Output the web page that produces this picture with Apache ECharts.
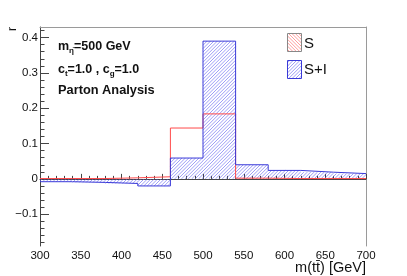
<!DOCTYPE html>
<html><head><meta charset="utf-8">
<script src="https://cdn.jsdelivr.net/npm/echarts@6/dist/echarts.min.js"></script>
<style>html,body{margin:0;padding:0;background:#fff}#c{width:407px;height:276px}</style>
</head><body><div id="c"></div>
<script>
const binEdges = [300, 340, 380, 420, 460, 500, 540, 580, 620, 660, 700];
const sValues  = [0.001, 0.001, 0.003, 0.006, 0.144, 0.184, 0.002, 0.001, 0.001, 0.001];
const siValues = [-0.008, -0.010, -0.013, -0.020, 0.059, 0.390, 0.040, 0.024, 0.019, 0.015];
const yMajorTicks = [-0.1, 0, 0.1, 0.2, 0.3, 0.4];
const yMinorTicks = [-0.18, -0.16, -0.14, -0.12, -0.08, -0.06, -0.04, -0.02, 0.02, 0.04, 0.06, 0.08,
  0.12, 0.14, 0.16, 0.18, 0.22, 0.24, 0.26, 0.28, 0.32, 0.34, 0.36, 0.38, 0.42];
const seriesNames = ['S', 'S+I'];

const BLUE = '#3a3ad8', RED = '#ff4a4a', AX = '#444', FR = '#9a9a9a';
const BLUE_HATCH = 'rgba(85,85,240,0.68)', RED_HATCH = 'rgba(255,110,110,0.8)';
const HATCH_STEP = 3.4;

// hatch segments inside a rectangle (dir 1 = '/', dir -1 = '\')
function hatchLines(x0, y0, w, h, dir, color) {
  const out = [];
  const d = HATCH_STEP;
  if (dir > 0) {
    const cMin = Math.ceil((x0 + y0) / d), cMax = Math.floor((x0 + w + y0 + h) / d);
    for (let k = cMin; k <= cMax; k++) {
      const c = k * d;
      const xa = Math.max(x0, c - (y0 + h)), xb = Math.min(x0 + w, c - y0);
      if (xb > xa) out.push({ type: 'line', silent: true, shape: { x1: xa, y1: c - xa, x2: xb, y2: c - xb },
        style: { stroke: color, lineWidth: 0.85 } });
    }
  } else {
    const cMin = Math.ceil((x0 - y0 - h) / d), cMax = Math.floor((x0 + w - y0) / d);
    for (let k = cMin; k <= cMax; k++) {
      const c = k * d;
      const xa = Math.max(x0, c + y0), xb = Math.min(x0 + w, c + y0 + h);
      if (xb > xa) out.push({ type: 'line', silent: true, shape: { x1: xa, y1: xa - c, x2: xb, y2: xb - c },
        style: { stroke: color, lineWidth: 0.85 } });
    }
  }
  return out;
}

function stepData(vals) {
  const d = vals.map((v, i) => [binEdges[i], v]);
  d.push([binEdges[binEdges.length - 1], vals[vals.length - 1]]);
  return d;
}
const binData = siValues.map((v, i) => [binEdges[i], binEdges[i + 1], v]);

function legendBox(x, y, dir, hatchColor, stroke) {
  return { type: 'group', z: 10, children: hatchLines(x, y, 14, 18, dir, hatchColor).concat([
    { type: 'rect', shape: { x: x, y: y, width: 14, height: 18 }, style: { fill: 'none', stroke: stroke, lineWidth: 1 } }
  ]) };
}

const chart = echarts.init(document.getElementById('c'), null, { renderer: 'canvas' });
const font = 'Liberation Sans, Arial, Helvetica, sans-serif';
chart.setOption({
  animation: false,
  backgroundColor: '#fff',
  textStyle: { fontFamily: font },
  grid: { left: 40, right: 41, top: 27, bottom: 30 },
  xAxis: [{
    type: 'value', min: 300, max: 700, interval: 50,
    axisLine: { show: true, lineStyle: { color: AX, width: 1 } },
    axisTick: { show: true, inside: true, length: 5, lineStyle: { color: AX } },
    minorTick: { show: true, splitNumber: 5, length: 3, lineStyle: { color: AX } },
    splitLine: { show: false },
    axisLabel: { fontSize: 11.5, color: '#111', margin: 4, fontFamily: font }
  }, {
    type: 'value', min: 300, max: 700, position: 'top',
    axisLine: { show: true, onZero: false, lineStyle: { color: FR } },
    axisTick: { show: false }, axisLabel: { show: false }, splitLine: { show: false }
  }],
  yAxis: [{
    type: 'value', min: -0.19, max: 0.43,
    axisLine: { show: true, onZero: false, lineStyle: { color: AX } },
    axisTick: { show: true, inside: true, length: 9, customValues: yMajorTicks, lineStyle: { color: AX } },
    axisLabel: { customValues: yMajorTicks, fontSize: 11.5, color: '#111', margin: 2, fontFamily: font,
      formatter: v => (v < 0 ? '\u2212' + String(-v) : String(v)) },
    splitLine: { show: false }
  }, {
    type: 'value', min: -0.19, max: 0.43, position: 'left',
    axisLine: { show: false },
    axisTick: { show: true, inside: true, length: 4.5, customValues: yMinorTicks, lineStyle: { color: AX } },
    axisLabel: { show: false }, splitLine: { show: false }
  }, {
    type: 'value', min: -0.19, max: 0.43, position: 'right',
    axisLine: { show: true, onZero: false, lineStyle: { color: FR } },
    axisTick: { show: false }, axisLabel: { show: false }, splitLine: { show: false }
  }],
  series: [{
    type: 'custom', name: 'S+I hatch', xAxisIndex: 0, yAxisIndex: 0, z: 1, silent: true,
    encode: { x: [0, 1], y: 2 },
    data: binData,
    renderItem: function (params, api) {
      const a = api.coord([api.value(0), 0]);
      const b = api.coord([api.value(1), api.value(2)]);
      const y = Math.min(a[1], b[1]), h = Math.abs(b[1] - a[1]);
      return { type: 'group', children: hatchLines(a[0], y, b[0] - a[0], h, 1, BLUE_HATCH) };
    }
  }, {
    type: 'line', name: seriesNames[0], step: 'end', xAxisIndex: 0, yAxisIndex: 0, z: 3,
    symbol: 'none', data: stepData(sValues),
    lineStyle: { color: RED, width: 1 }, itemStyle: { color: RED }
  }, {
    type: 'line', name: seriesNames[1], step: 'end', xAxisIndex: 0, yAxisIndex: 0, z: 4,
    symbol: 'none', data: stepData(siValues),
    lineStyle: { color: BLUE, width: 1 }, itemStyle: { color: BLUE }
  }],
  graphic: [
    { type: 'text', x: 13, y: 27, rotation: Math.PI / 2, z: 10,
      style: { text: 'r', fontSize: 12, fill: '#111', align: 'right', verticalAlign: 'middle', fontFamily: font } },
    { type: 'text', x: 366, y: 268, z: 10,
      style: { text: 'm(tt\u0304) [GeV]', fontSize: 14.5, fill: '#111', align: 'right', verticalAlign: 'middle', fontFamily: font } },
    { type: 'text', x: 58, y: 47, z: 10,
      style: { text: '{a|m}{s|\u03b7\u0304}{a|=500 GeV}', align: 'left', verticalAlign: 'middle',
        rich: { a: { fontSize: 12.5, fontWeight: 'bold', lineHeight: 16, fill: '#111', fontFamily: font },
                s: { fontSize: 8, fontWeight: 'bold', lineHeight: 8, verticalAlign: 'bottom', fill: '#111', fontFamily: font } } } },
    { type: 'text', x: 58, y: 70, z: 10,
      style: { text: '{a|c}{s|t}{a|=1.0 , c}{s|g}{a|=1.0}', align: 'left', verticalAlign: 'middle',
        rich: { a: { fontSize: 12.5, fontWeight: 'bold', lineHeight: 16, fill: '#111', fontFamily: font },
                s: { fontSize: 8, fontWeight: 'bold', lineHeight: 8, verticalAlign: 'bottom', fill: '#111', fontFamily: font } } } },
    { type: 'text', x: 58, y: 90, z: 10,
      style: { text: 'Parton Analysis', fontSize: 12.8, fontWeight: 'bold', fill: '#111', align: 'left', verticalAlign: 'middle', fontFamily: font } },
    legendBox(287.5, 33.5, -1, RED_HATCH, '#888'),
    { type: 'text', x: 304, y: 43.5, z: 10,
      style: { text: seriesNames[0], fontSize: 15, fill: '#111', align: 'left', verticalAlign: 'middle', fontFamily: font } },
    legendBox(287.5, 60.5, 1, BLUE_HATCH, BLUE),
    { type: 'text', x: 304, y: 69.5, z: 10,
      style: { text: seriesNames[1], fontSize: 15, fill: '#111', align: 'left', verticalAlign: 'middle', fontFamily: font } }
  ]
});
</script></body></html>
